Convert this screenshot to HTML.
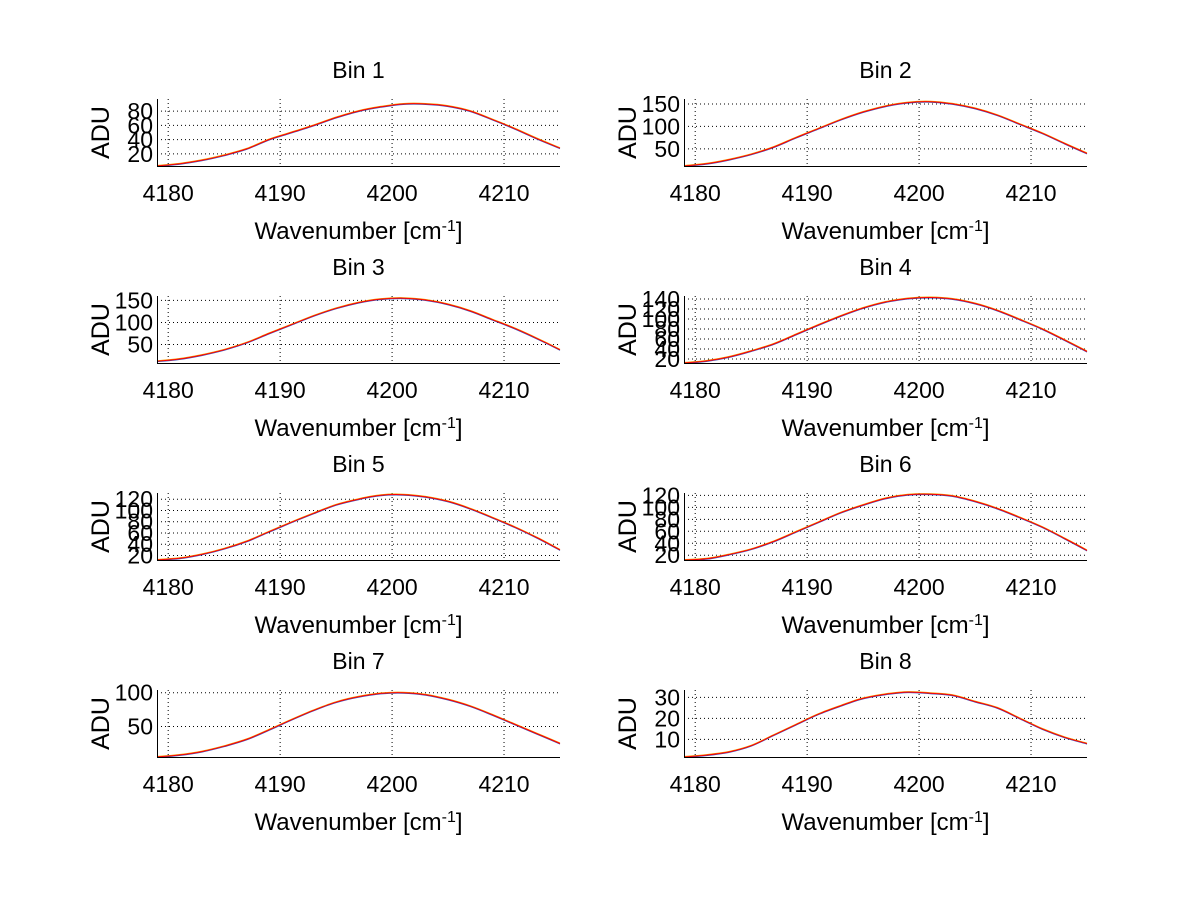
<!DOCTYPE html>
<html><head><meta charset="utf-8">
<style>
html,body{margin:0;padding:0;background:#fff;}
svg{display:block;font-family:"Liberation Sans",sans-serif;}
</style></head>
<body>
<svg id="fig" width="1200" height="901" viewBox="0 0 1200 901"></svg>
<script>
const wavenumbers = [4179,4181,4183,4185,4187,4189,4191,4193,4195,4197,4199,4201,4203,4205,4207,4209,4211,4213,4215];
const xTicks = [4180,4190,4200,4210];
const binTitles = ["Bin 1","Bin 2","Bin 3","Bin 4","Bin 5","Bin 6","Bin 7","Bin 8"];
const bin1 = [3,6,11,18,27,40,50,60,71,80,86,90,90,87,80,68,55,41,28];
const bin2 = [12,17,26,38,54,75,95,115,132,145,153,155,150,140,125,105,85,62,40];
const bin3 = [12,17,26,38,54,75,95,115,132,145,153,155,151,141,126,106,86,63,38];
const bin4 = [12,16,24,36,50,69,88,106,122,134,141,143,140,131,117,99,80,58,35];
const bin5 = [12,15,22,32,45,62,79,95,110,120,127,128,124,116,103,87,70,51,30];
const bin6 = [12,14,21,30,43,59,75,91,104,115,121,122,119,110,98,83,67,48,28];
const bin7 = [5,8,13,21,31,45,60,74,86,94,99,100,97,90,80,67,53,39,25];
const bin8 = [1.6,2.5,4,7,12,17,22,26,29.5,31.5,32.5,32,31,28,25,20,15,11,8];
const binSeries = [bin1,bin2,bin3,bin4,bin5,bin6,bin7,bin8];
const yMins = [3,12,8,12,12,12,5,1.6];
const yMaxs = [97,161,160,146,131,124,104,33.5];
const yTicks1 = [20,40,60,80];
const yTicks2 = [50,100,150];
const yTicks3 = [50,100,150];
const yTicks4 = [20,40,60,80,100,120,140];
const yTicks5 = [20,40,60,80,100,120];
const yTicks6 = [20,40,60,80,100,120];
const yTicks7 = [50,100];
const yTicks8 = [10,20,30];
const yTickSets = [yTicks1,yTicks2,yTicks3,yTicks4,yTicks5,yTicks6,yTicks7,yTicks8];

const NS="http://www.w3.org/2000/svg";
const svg=document.getElementById('fig');
function mk(tag,attrs,parent){const e=document.createElementNS(NS,tag);for(const k in attrs)e.setAttribute(k,attrs[k]);parent.appendChild(e);return e;}
const colLeft=[157,684], axW=403, rowTop=[99,296,493,690], axH=67, xMin=4179, xMax=4215;

function smoothPath(pts){
  let d="M"+pts[0][0].toFixed(1)+","+pts[0][1].toFixed(1);
  for(let i=0;i<pts.length-1;i++){
    const p0=pts[Math.max(0,i-1)],p1=pts[i],p2=pts[i+1],p3=pts[Math.min(pts.length-1,i+2)];
    const c1=[p1[0]+(p2[0]-p0[0])/6,p1[1]+(p2[1]-p0[1])/6];
    const c2=[p2[0]-(p3[0]-p1[0])/6,p2[1]-(p3[1]-p1[1])/6];
    d+=" C"+c1[0].toFixed(1)+","+c1[1].toFixed(1)+" "+c2[0].toFixed(1)+","+c2[1].toFixed(1)+" "+p2[0].toFixed(1)+","+p2[1].toFixed(1);
  }
  return d;
}

for(let b=0;b<8;b++){
  const L=colLeft[b%2], T=rowTop[Math.floor(b/2)], B=T+axH, R=L+axW;
  const sx=v=>L+(v-xMin)/(xMax-xMin)*axW;
  const sy=v=>B-(v-yMins[b])/(yMaxs[b]-yMins[b])*axH;
  const g=mk('g',{},svg);
  
  
  const t=mk('text',{x:L+axW/2,y:T-21,'text-anchor':'middle','font-size':23},g);
  t.textContent=binTitles[b];
  
  
  xTicks.forEach(v=>{
    const ln=mk('line',{x1:sx(v),x2:sx(v),y1:T,y2:B,stroke:'#000','stroke-width':1,'stroke-dasharray':'1,3'},g);
    
    
    const tl=mk('text',{x:sx(v),y:B+35,'text-anchor':'middle','font-size':23},g);
    tl.textContent=v;
    
    
  });
  yTickSets[b].forEach(v=>{
    const ln=mk('line',{x1:L,x2:R,y1:sy(v),y2:sy(v),stroke:'#000','stroke-width':1,'stroke-dasharray':'1,3'},g);
    
    
    const tl=mk('text',{x:L-4,y:sy(v)+8,'text-anchor':'end','font-size':23},g);
    tl.textContent=v;
    
    
  });
  const pts=wavenumbers.map((w,i)=>[sx(w),sy(binSeries[b][i])]);
  const d=smoothPath(pts);
  const p1=mk('path',{d:d,fill:'none',stroke:'#3050c0','stroke-width':0.8,transform:'translate(0,0.6)'},g);
  
  
  const p2=mk('path',{d:d,fill:'none',stroke:'#f0a000','stroke-width':0.8,transform:'translate(0,-0.6)'},g);
  
  
  const p3=mk('path',{d:d,fill:'none',stroke:'#ff0000','stroke-width':1},g);
  
  
  const ax=mk('path',{d:`M${L+0.5},${T} L${L+0.5},${B+0.5} L${R},${B+0.5}`,fill:'none',stroke:'#000','stroke-width':1},g);
  
  
  const xl=mk('text',{x:L+axW/2,y:B+73,'text-anchor':'middle','font-size':24},g);
  xl.innerHTML='Wavenumber [cm<tspan baseline-shift="super" font-size="16">-1</tspan>]';
  
  
  const yl=mk('text',{x:0,y:0,'text-anchor':'middle','font-size':25,transform:`translate(${L-48},${T+axH/2}) rotate(-90)`},g);
  yl.textContent='ADU';
  
  
}
</script>
</body></html>
